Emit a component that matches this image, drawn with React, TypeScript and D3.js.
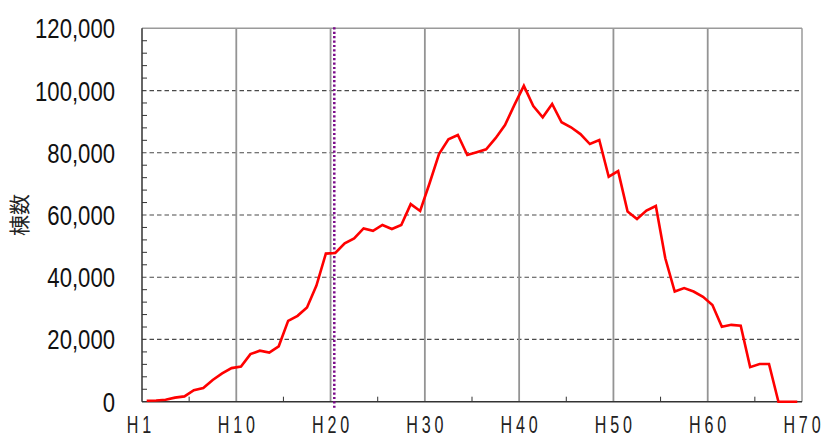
import React from "react";
import * as d3 from "d3";

const categories: string[] = Array.from({ length: 70 }, (_, i) => "H" + (i + 1));

const buildingCounts: number[] = [
  300, 400, 600, 1300, 1700, 3700, 4400, 7000, 9100, 10800,
  11300, 15300, 16400, 15800, 17800, 26000, 27600, 30300, 37300, 47600,
  47800, 50900, 52500, 55700, 54900, 56800, 55500, 56800, 63500, 61300,
  70200, 79600, 84300, 85700, 79300, 80200, 81100, 84700, 88900, 95400,
  101500, 95000, 91400, 95700, 89800, 88200, 86000, 82800, 84100, 72300,
  74100, 61100, 58700, 61400, 62900, 46100, 35400, 36500, 35400, 33700,
  31100, 24100, 24700, 24400, 11100, 12100, 12100, 0, 0, 0,
];

const xTickLabels: string[] = ["H1", "H10", "H20", "H30", "H40", "H50", "H60", "H70"];
const yTicks: number[] = [0, 20000, 40000, 60000, 80000, 100000, 120000];
const markerCategory = "H21";
const yTitle = "棟数";

const W = 840;
const H = 440;
const left = 142;
const right = 802;
const top = 28.3;
const bottom = 401.7;

export default function App() {
  const x = d3.scaleBand<string>().domain(categories).range([left, right]).padding(0);
  const bw = x.bandwidth();
  const y = d3.scaleLinear().domain([0, 120000]).range([bottom, top]);
  const cx = (c: string) => (x(c) as number) + bw / 2;
  const boundary = (i: number) => left + i * bw;

  const line = d3
    .line<number>()
    .x((_, i) => cx(categories[i]))
    .y((d) => y(d));

  const minorY = d3.range(0, 120001, 4000).filter((v) => v % 20000 !== 0);
  const minorX = [5, 15, 25, 35, 45, 55, 65];
  const fmt = d3.format(",");

  const yScaleX = 0.79;
  const xScaleX = 0.7;
  const xSpacing = 5.5;

  return (
    <svg
      width={W}
      height={H}
      style={{ position: "absolute", left: 0, top: 0, background: "#fff" }}
    >
      <rect x={0} y={0} width={W} height={H} fill="#fff" />
      {yTicks
        .filter((v) => v > 0 && v < 120000)
        .map((v) => (
          <line
            key={"hg" + v}
            x1={left}
            x2={right}
            y1={y(v)}
            y2={y(v)}
            stroke="#4a4a4a"
            strokeWidth={1.2}
            strokeDasharray="4.5,3"
          />
        ))}
      {[1, 2, 3, 4, 5, 6].map((i) => (
        <line
          key={"vg" + i}
          x1={boundary(i * 10)}
          x2={boundary(i * 10)}
          y1={top}
          y2={bottom}
          stroke="#949494"
          strokeWidth={1.8}
        />
      ))}
      <line x1={left} x2={right} y1={top} y2={top} stroke="#9a9a9a" strokeWidth={1.5} />
      <line x1={right} x2={right} y1={top} y2={bottom} stroke="#9a9a9a" strokeWidth={1.5} />
      {minorY.map((v) => (
        <line key={"my" + v} x1={left} x2={left + 5} y1={y(v)} y2={y(v)} stroke="#333" strokeWidth={1} />
      ))}
      {minorX.map((i) => (
        <line
          key={"mx" + i}
          x1={boundary(i)}
          x2={boundary(i)}
          y1={bottom}
          y2={bottom - 5}
          stroke="#333"
          strokeWidth={1}
        />
      ))}
      <line x1={left} x2={left} y1={top} y2={bottom} stroke="#333" strokeWidth={1.5} />
      <line x1={left} x2={right} y1={bottom} y2={bottom} stroke="#333" strokeWidth={1.5} />
      <line
        x1={cx(markerCategory) - 1}
        x2={cx(markerCategory) - 1}
        y1={top - 1}
        y2={bottom + 6}
        stroke="#7a0a8a"
        strokeWidth={2.5}
        strokeDasharray="2.2,2.2"
      />
      <path
        d={line(buildingCounts) || ""}
        fill="none"
        stroke="#ff0000"
        strokeWidth={2.6}
        strokeLinejoin="miter"
      />
      {yTicks.map((v) => (
        <g key={"yl" + v} transform={`translate(115,${y(v) + 10}) scale(${yScaleX},1)`}>
          <text
            textAnchor="end"
            fontFamily="'Liberation Sans', Arial, sans-serif"
            fontSize={28}
            fill="#111"
          >
            {fmt(v)}
          </text>
        </g>
      ))}
      {xTickLabels.map((t, i) => (
        <g key={"xl" + t} transform={`translate(${boundary(i * 10) + (i === 0 ? -3 : 0)},433) scale(${xScaleX},1)`}>
          <text
            textAnchor="middle"
            dx={xSpacing / 2}
            letterSpacing={xSpacing}
            fontFamily="'Liberation Sans', Arial, sans-serif"
            fontSize={23}
            fill="#222"
          >
            {t}
          </text>
        </g>
      ))}
      <text
        transform="translate(27,215) rotate(-90)"
        textAnchor="middle"
        fontFamily="'Noto Sans CJK JP', sans-serif"
        fontSize={21}
        fill="#222"
      >
        {yTitle}
      </text>
    </svg>
  );
}
